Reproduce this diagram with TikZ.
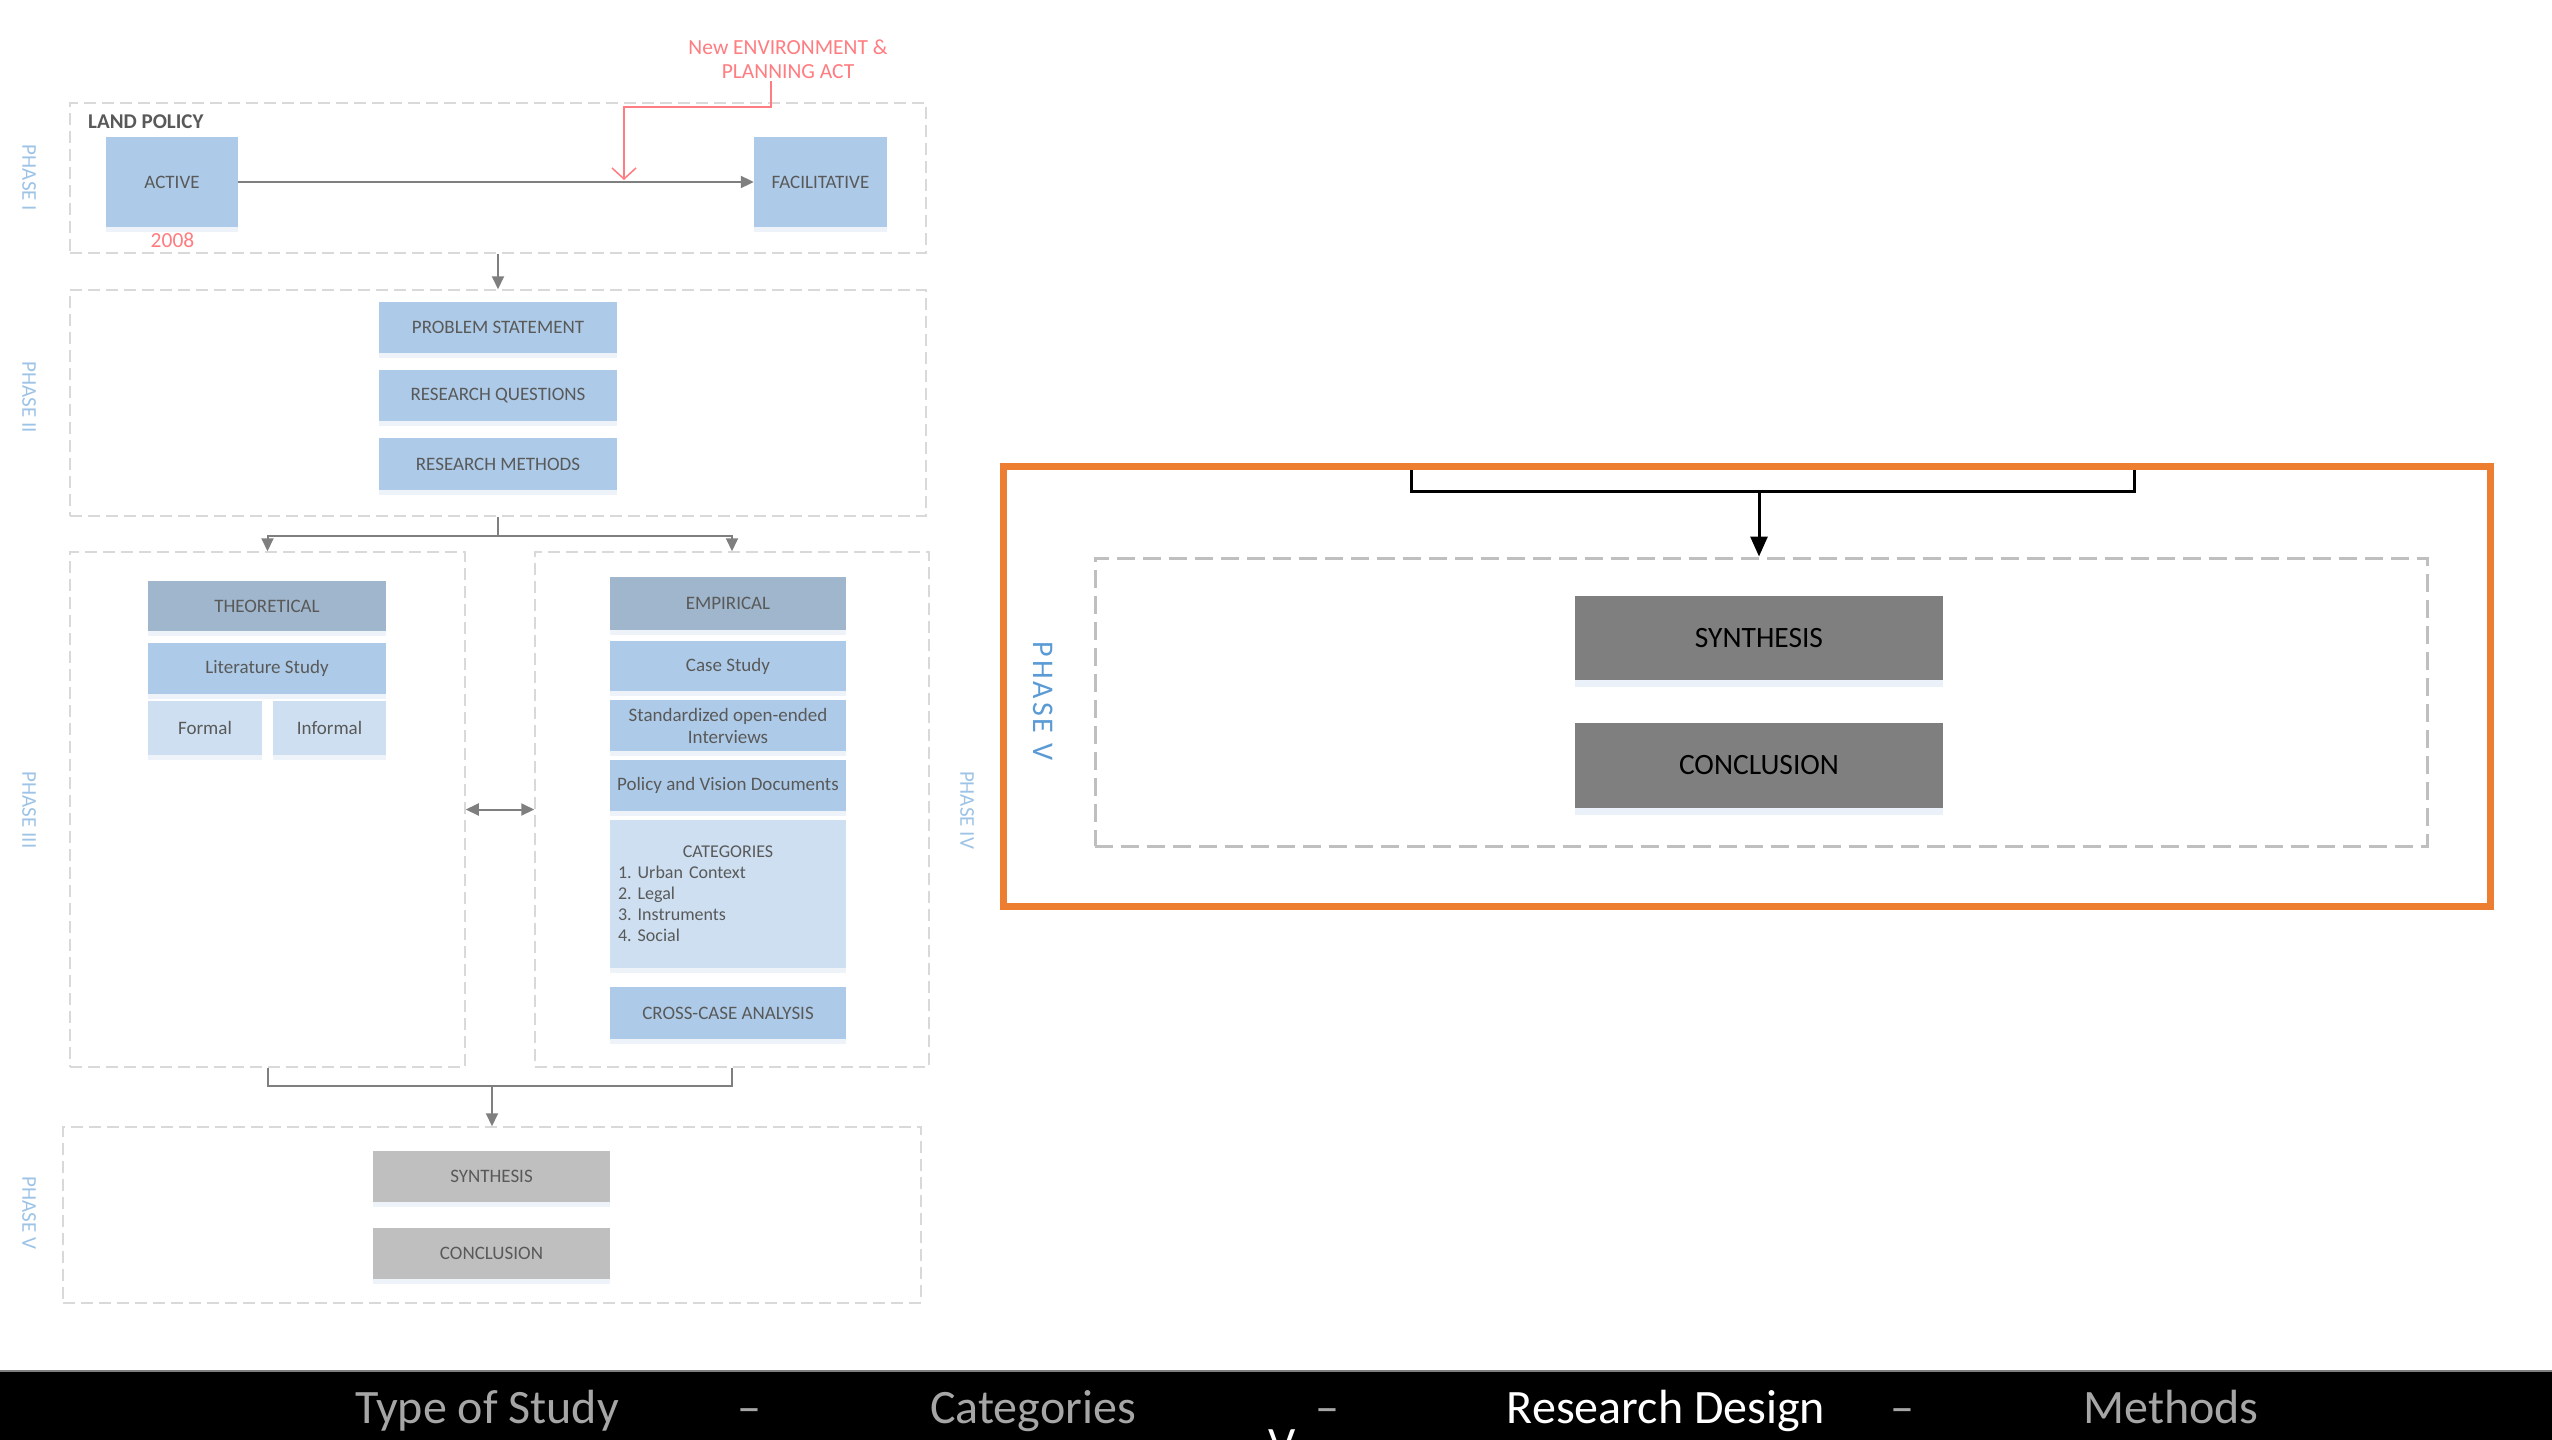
\documentclass[tikz,border=0pt]{standalone}
\usepackage{fontspec}
\setmainfont{Carlito}
\usetikzlibrary{arrows.meta,shadows}

\definecolor{boxblue}{HTML}{ADCBE8}
\definecolor{boxhead}{HTML}{9FB6CD}
\definecolor{boxpale}{HTML}{CDDFF1}
\definecolor{boxgray}{HTML}{BFBFBF}
\definecolor{boxdark}{HTML}{7F7F7F}
\definecolor{txtgray}{HTML}{595959}
\definecolor{phaseblue}{HTML}{9DC3E6}
\definecolor{phasebluedeep}{HTML}{5B9BD5}
\definecolor{dashgray}{HTML}{D9D9D9}
\definecolor{dashgraydeep}{HTML}{BFBFBF}
\definecolor{linegray}{HTML}{7F7F7F}
\definecolor{actred}{HTML}{FF7C80}
\definecolor{frameorange}{HTML}{ED7D31}
\definecolor{bartext}{HTML}{A6A6A6}
\definecolor{shadowblue}{HTML}{E3ECF7}

\begin{document}
\frenchspacing
\begin{tikzpicture}[x=1pt,y=-1pt,
  wh/.style 2 args={minimum width=#1,minimum height=#2},
  phasebox/.style={draw=dashgray,line width=1.5pt,dash pattern=on 12pt off 6pt,inner sep=0pt},
  phaselabel/.style={text=phaseblue,rotate=-90,inner sep=0pt,font=\fontsize{21}{23}\selectfont},
  stepbox/.style={fill=boxblue,text=txtgray,inner sep=0pt,align=center,
    font=\fontsize{19}{22}\selectfont,
    drop shadow={shadow xshift=0pt,shadow yshift=-5pt,fill=shadowblue,opacity=0.6}},
  headbox/.style={stepbox,fill=boxhead},
  palebox/.style={stepbox,fill=boxpale},
  endbox/.style={stepbox,fill=boxgray},
  bigbox/.style={fill=boxdark,text=black,inner sep=0pt,font=\fontsize{29.5}{31}\selectfont,
    drop shadow={shadow xshift=0pt,shadow yshift=-7pt,fill=shadowblue,opacity=0.7}},
  gline/.style={draw=linegray,line width=2pt},
  garrow/.style={gline,-{Triangle[length=13pt,width=12pt]}},
  redtext/.style={text=actred,inner sep=0pt,align=center,font=\fontsize{21.5}{24}\selectfont},
  bline/.style={draw=black,line width=3pt},
  barrow/.style={bline,-{Triangle[length=20pt,width=17pt]}},
  bartxt/.style={anchor=base,inner sep=0pt,text=bartext,font=\fontsize{48}{50}\selectfont}
]
\useasboundingbox (0,0) rectangle (2552,1440);
\fill[white] (0,0) rectangle (2552,1440);

% ---------- phase frames ----------
\node[phasebox,wh={856pt}{150pt}] (p1) at (498,178) {};
\node[phasebox,wh={856pt}{226pt}] (p2) at (498,403) {};
\node[phasebox,wh={395pt}{515pt}] (p3) at (267.5,809.5) {};
\node[phasebox,wh={394pt}{515pt}] (p4) at (732,809.5) {};
\node[phasebox,wh={858pt}{176pt}] (p5) at (492,1215) {};

\node[phaselabel] (l1) at (29,178) {PHASE I};
\node[phaselabel] (l2) at (29,397) {PHASE II};
\node[phaselabel] (l3) at (29,810) {PHASE III};
\node[phaselabel] (l4) at (967,810) {PHASE IV};
\node[phaselabel] (l5) at (29,1213) {PHASE V};

% ---------- phase I : land policy ----------
\node[anchor=west,inner sep=0pt,text=txtgray,font=\fontsize{21}{23}\selectfont\bfseries] (land) at (88,122) {LAND POLICY};
\node[stepbox,wh={132pt}{90pt}] (active) at (172,182) {ACTIVE};
\node[stepbox,wh={133pt}{90pt}] (facil) at (820.5,182) {FACILITATIVE};
\node[redtext] (year) at (172.5,240) {2008};
\node[redtext] (act) at (788,59) {New ENVIRONMENT \&\\PLANNING ACT};
\draw[garrow] (active) -- (facil);
\coordinate (actfoot) at (771,81);
\coordinate (actkink) at (624,107);
\coordinate (acthit) at (624,180);
\draw[actred,line width=1.5pt,-{Straight Barb[length=11pt,width=24pt]}]
  (actfoot) |- (actkink) -- (acthit);

% ---------- phase II ----------
\node[stepbox,wh={238pt}{51pt}] (prob) at (498,327.5) {PROBLEM STATEMENT};
\node[stepbox,wh={238pt}{51pt}] (rq) at (498,395.5) {RESEARCH QUESTIONS};
\node[stepbox,wh={238pt}{52pt}] (rm) at (498,464) {RESEARCH METHODS};

% ---------- phase III : theoretical ----------
\node[headbox,wh={238pt}{50pt}] (theo) at (267,606) {THEORETICAL};
\node[stepbox,wh={238pt}{51pt}] (lit) at (267,668.5) {Literature Study};
\node[palebox,wh={114pt}{54pt}] (formal) at (205,728) {Formal};
\node[palebox,wh={113pt}{54pt}] (informal) at (329.5,728) {Informal};

% ---------- phase IV : empirical ----------
\node[headbox,wh={236pt}{53pt}] (emp) at (728,603.5) {EMPIRICAL};
\node[stepbox,wh={236pt}{50pt}] (case) at (728,666) {Case Study};
\node[stepbox,wh={236pt}{51pt}] (interv) at (728,725.5) {Standardized open-ended\\Interviews};
\node[stepbox,wh={236pt}{51pt}] (policy) at (728,785.5) {Policy and Vision Documents};
\node[palebox,wh={236pt}{148pt},text width=220pt,align=left,
  font=\fontsize{18}{21}\selectfont] (cat) at (728,894)
  {\hfill CATEGORIES\hfill\null\\1. Urban Context\\2. Legal\\3. Instruments\\4. Social};
\node[stepbox,wh={236pt}{52pt}] (cross) at (728,1013) {CROSS-CASE ANALYSIS};

% ---------- phase V ----------
\node[endbox,wh={237pt}{51pt}] (syn) at (491.5,1176.5) {SYNTHESIS};
\node[endbox,wh={237pt}{51pt}] (con) at (491.5,1253.5) {CONCLUSION};

% ---------- connectors between phases ----------
\draw[garrow] (p1.south) -- (p2.north);
\draw[garrow] (p2.south) -- ++(0,19) -| (p3.north);
\draw[garrow] (p2.south) -- ++(0,19) -| (p4.north);
\draw[gline,{Triangle[length=13pt,width=12pt]}-{Triangle[length=13pt,width=12pt]}] (p3.east) -- (p4.west);
\coordinate (merge) at (492,1086);
\draw[gline] (p3.south) |- (merge);
\draw[gline] (p4.south) |- (merge);
\draw[garrow] (merge) -- (p5.north);

% ---------- enlarged phase V ----------
\coordinate (bigtl) at (1411,466);
\coordinate (bigtr) at (2134,466);
\coordinate (bigjoin) at (1759,491);
\node[draw=dashgraydeep,line width=3pt,dash pattern=on 18pt off 8pt,inner sep=0pt,
  wh={1332pt}{288pt}] (bigp5) at (1761,702) {};
\draw[bline] (bigtl) |- (bigjoin);
\draw[bline] (bigtr) |- (bigjoin);
\draw[barrow] (bigjoin) -- (bigjoin |- bigp5.north);
\node[bigbox,wh={368pt}{84pt}] (bigsyn) at (1759,638) {SYNTHESIS};
\node[bigbox,wh={368pt}{85pt}] (bigcon) at (1759,765.5) {CONCLUSION};
\node[text=phasebluedeep,rotate=-90,inner sep=0pt,font=\fontsize{30}{32}\selectfont] (bigl5) at (1043,701)
  {P\kern3pt H\kern3pt A\kern3pt S\kern3pt E\kern3pt\ V};
\node[draw=frameorange,line width=7pt,inner sep=0pt,wh={1487pt}{440pt}] (frame) at (1746.5,686) {};

% ---------- bottom navigation bar ----------
\fill[black] (0,1371) rectangle (2552,1440);
\draw[linegray,line width=2pt] (0,1371) -- (2552,1371);
\node[bartxt] (nav1) at (487,1423) {Type of Study};
\node[bartxt] (sep1) at (749,1423) {–};
\node[bartxt] (nav2) at (1033,1423) {Categories};
\node[bartxt] (sep2) at (1327,1423) {–};
\node[bartxt,text=white] (nav3) at (1666,1423) {Research Design};
\node[bartxt] (sep3) at (1902,1423) {–};
\node[bartxt] (nav4) at (2171,1423) {Methods};
\node[bartxt,text=white] (navv) at (1282,1460) {V};
\end{tikzpicture}
\end{document}
